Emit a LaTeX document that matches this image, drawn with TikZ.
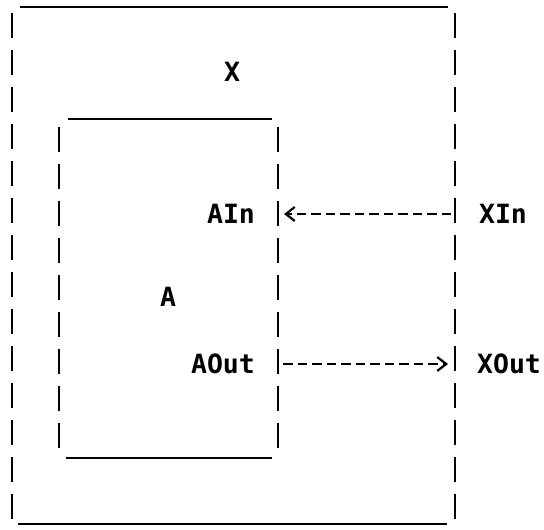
\documentclass[tikz,border=0pt]{standalone}
\usepackage{fontspec}
\setmonofont{DejaVu Sans Mono}
\usetikzlibrary{arrows.meta}
\begin{document}
\begin{tikzpicture}[x=1pt,y=-1pt,
	lbl/.style={font=\ttfamily\bfseries\fontsize{26.5}{30}\selectfont, inner sep=0pt, text height=19pt, text depth=0pt},
	rule/.style={line width=2.8pt},
	side/.style={line width=2.5pt, dash pattern=on 25pt off 12pt},
	wire/.style={line width=2.6pt, dash pattern=on 9.5pt off 5pt, -{Straight Barb[length=9pt,width=14pt,line width=2.2pt]}}]
	\useasboundingbox (0,0) rectangle (544,530);
	% outer box X
	\coordinate (Xtl) at (20,7);	\coordinate (Xtr) at (448,7);
	\coordinate (Xbl) at (18,524);	\coordinate (Xbr) at (447,524);
	\coordinate (Xl1) at (12,13);	\coordinate (Xl2) at (12,519);
	\coordinate (Xr1) at (455,13);	\coordinate (Xr2) at (455,519);
	\draw[rule] (Xtl) -- (Xtr);
	\draw[rule] (Xbl) -- (Xbr);
	\draw[side] (Xl1) -- (Xl2);
	\draw[side] (Xr1) -- (Xr2);
	% inner box A
	\coordinate (Atl) at (68,119);	\coordinate (Atr) at (272,119);
	\coordinate (Abl) at (66,458);	\coordinate (Abr) at (272,458);
	\coordinate (Al1) at (59,127);	\coordinate (Al2) at (59,448);
	\coordinate (Ar1) at (278,127);	\coordinate (Ar2) at (278,448);
	\draw[rule] (Atl) -- (Atr);
	\draw[rule] (Abl) -- (Abr);
	\draw[side] (Al1) -- (Al2);
	\draw[side] (Ar1) -- (Ar2);
	% labels
	\node (X) at (232,72)	[lbl]	{X};
	\node (A) at (168,297)	[lbl]	{A};
	\node (AIn) at (231,214)	[lbl]	{AIn};
	\node (AOut) at (223,364)	[lbl]	{AOut};
	\node (XIn) at (503,214)	[lbl]	{XIn};
	\node (XOut) at (509,364)	[lbl]	{XOut};
	% ports
	\coordinate (pXIn) at (451,214);	\coordinate (pAIn) at (284,214);
	\coordinate (pAOut) at (283,364);	\coordinate (pXOut) at (448,364);
	\draw[wire] (pXIn) -- (pAIn);
	\draw[wire] (pAOut) -- (pXOut);
\end{tikzpicture}
\end{document}
